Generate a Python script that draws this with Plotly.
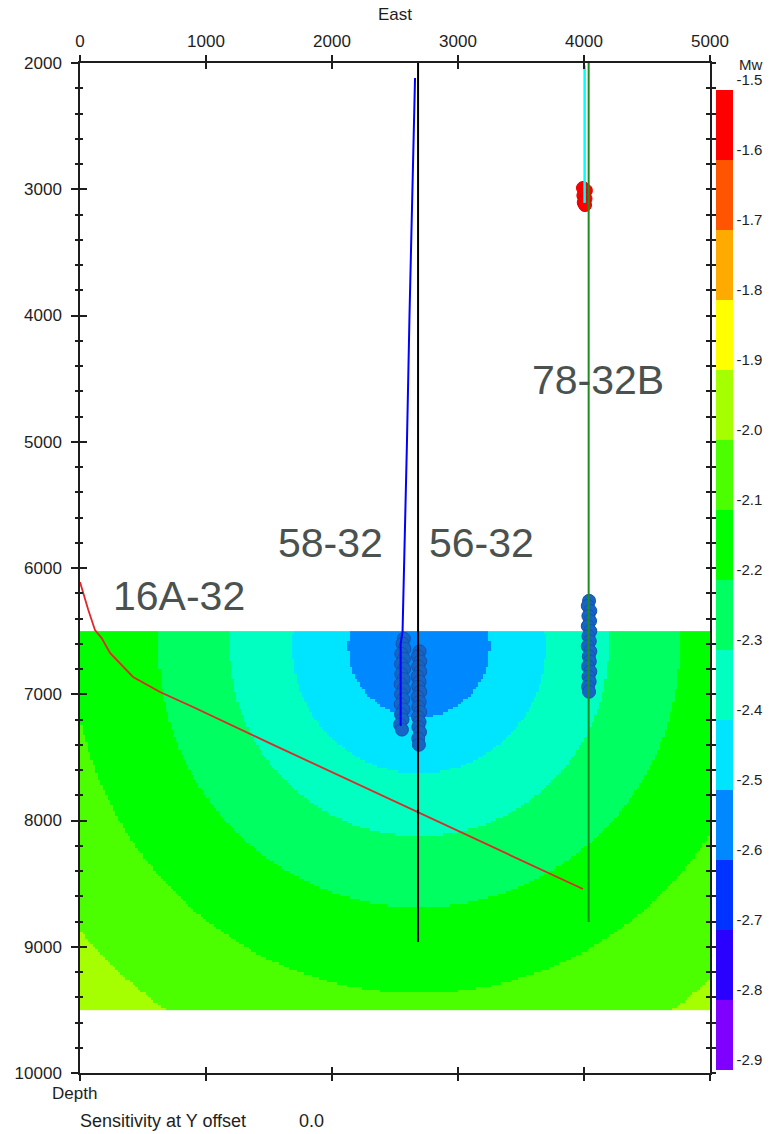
import numpy as np
import plotly.graph_objects as go

# ---------------- data ----------------
# Sensitivity field: concentric bands around a centre, boundary radii
FIELD_CENTER_EAST = 2690
FIELD_CENTER_DEPTH = 6618
BAND_RADII = [0, 562, 1006, 1505, 2068, 2750, 3510, 4300]      # metres
BAND_MW = [-2.58, -2.5, -2.4, -2.3, -2.2, -2.1, -2.0, -1.9]
FIELD_EAST_RANGE = [0, 5000]
FIELD_DEPTH_RANGE = [6500, 9500]

# Colour bar levels (bottom to top) and band colours
MW_LEVELS = [-2.9, -2.8, -2.7, -2.6, -2.5, -2.4, -2.3, -2.2, -2.1, -2.0, -1.9, -1.8, -1.7, -1.6, -1.5]
BAND_COLORS = ["#7F00FF", "#2A00FF", "#0033FF", "#0088FF", "#00E5FF", "#00FFC0", "#00FF60",
               "#00FF00", "#4CFF00", "#A5FF00", "#FFFF00", "#FFAA00", "#FF5500", "#FF0000"]

# Wells (east, depth)
well_16A_east = [0, 26, 66, 119, 172, 238, 421, 635, 897, 1500, 2690, 3992]
well_16A_depth = [6111, 6201, 6333, 6491, 6555, 6673, 6863, 6982, 7101, 7385, 7941, 8543]

well_58_east = [2659, 2650, 2635, 2615, 2595, 2570, 2560, 2545, 2545]
well_58_depth = [2119, 2500, 3000, 4000, 5000, 6000, 6500, 6600, 7252]

well_56_east = [2683, 2683]
well_56_depth = [2000, 8962]

well_78_east = [4037, 4037]
well_78_depth = [2000, 8804]

well_78_cyan_east = [4005, 4005]
well_78_cyan_depth = [2020, 3108]

# Events
ev58_east = [2570, 2560, 2575, 2550, 2570, 2548, 2572, 2550, 2568, 2545, 2570, 2548, 2565,
             2545, 2568, 2548, 2560, 2540, 2555]
ev58_depth = [6560, 6600, 6640, 6680, 6720, 6760, 6800, 6840, 6880, 6920, 6960, 7000, 7040,
              7080, 7120, 7160, 7200, 7240, 7280]

ev56_east = [2695, 2682, 2700, 2685, 2700, 2680, 2695, 2685, 2700, 2680, 2695, 2685, 2700,
             2682, 2695, 2685, 2698, 2684, 2690]
ev56_depth = [6660, 6700, 6740, 6780, 6820, 6860, 6900, 6940, 6980, 7020, 7060, 7100, 7140,
              7180, 7220, 7260, 7300, 7350, 7400]

ev78_east = [4040, 4030, 4050, 4035, 4048, 4030, 4050, 4035, 4046, 4030, 4050, 4038, 4046,
             4032, 4050, 4036, 4045, 4032, 4040]
ev78_depth = [6260, 6300, 6340, 6380, 6420, 6460, 6500, 6540, 6580, 6620, 6660, 6700, 6740,
              6780, 6820, 6860, 6900, 6940, 6980]

evred_east = [3992, 4015, 3995, 4012, 3998, 4008]
evred_depth = [2990, 3010, 3050, 3075, 3105, 3125]

well_labels = ["16A-32", "58-32", "56-32", "78-32B"]
well_label_east = [786, 1992, 3187, 4115]
well_label_depth = [6222, 5802, 5802, 4511]

x_ticks = [0, 1000, 2000, 3000, 4000, 5000]
y_ticks = [2000, 3000, 4000, 5000, 6000, 7000, 8000, 9000, 10000]

# ---------------- figure ----------------
step = 20
gx = np.arange(FIELD_EAST_RANGE[0] + step / 2, FIELD_EAST_RANGE[1], step)
gy = np.arange(FIELD_DEPTH_RANGE[0] + step / 2, FIELD_DEPTH_RANGE[1], step)
GX, GY = np.meshgrid(gx, gy)
R = np.hypot(GX - FIELD_CENTER_EAST, GY - FIELD_CENTER_DEPTH)
Z = np.round(np.interp(R, BAND_RADII, BAND_MW), 4)

nb = len(BAND_COLORS)
cscale = []
for i, c in enumerate(BAND_COLORS):
    cscale.append([i / nb, c])
    cscale.append([(i + 1) / nb, c])

W, H = 777, 1134
L, Rm, T, B = 80, 67, 63, 61
PW, PH = W - L - Rm, H - T - B

TXT = "#1e1e1e"
FONT = "Liberation Sans"
FS = 17

fig = go.Figure()
fig.add_trace(go.Heatmap(
    x=gx, y=gy, z=Z, zmin=MW_LEVELS[0], zmax=MW_LEVELS[-1], zsmooth=False,
    colorscale=cscale, hoverinfo="skip",
    colorbar=dict(
        x=(716 - L) / PW, xanchor="left", y=(H - B - 90) / PH, yanchor="top",
        xpad=0, ypad=0,
        len=980 / PH, lenmode="fraction", thickness=17, outlinewidth=0,
        tickvals=MW_LEVELS, ticktext=[f"{v:.1f}" for v in MW_LEVELS],
        ticks="", ticklabelposition="outside top",
        tickfont=dict(family=FONT, size=15, color=TXT),
    ),
))

def ev_trace(xs, ys, color, edge):
    return go.Scatter(x=xs, y=ys, mode="markers", hoverinfo="skip", showlegend=False,
                      marker=dict(size=13, color=color, line=dict(color=edge, width=1)))

fig.add_trace(ev_trace(ev58_east, ev58_depth, "#1864C6", "#0F55AE"))
fig.add_trace(ev_trace(ev56_east, ev56_depth, "#1864C6", "#0F55AE"))
fig.add_trace(ev_trace(ev78_east, ev78_depth, "#1864C6", "#0F55AE"))
fig.add_trace(ev_trace(evred_east, evred_depth, "#FF0000", "#E00000"))

def line_trace(xs, ys, color, width):
    return go.Scatter(x=xs, y=ys, mode="lines", hoverinfo="skip", showlegend=False,
                      line=dict(color=color, width=width))

fig.add_trace(line_trace(well_16A_east, well_16A_depth, "#E02828", 1.8))
fig.add_trace(line_trace(well_58_east, well_58_depth, "#0000FF", 2))
fig.add_trace(line_trace(well_56_east, well_56_depth, "#000000", 2))
fig.add_trace(line_trace(well_78_cyan_east, well_78_cyan_depth, "#00FFFF", 2.5))
fig.add_trace(line_trace(well_78_east, well_78_depth, "#1E8C1E", 2))

# empty traces to register overlay axes
for xa, ya in [("x2", "y"), ("x3", "y"), ("x4", "y"), ("x", "y2"), ("x", "y3"), ("x", "y4")]:
    fig.add_trace(go.Scatter(x=[None], y=[None], xaxis=xa, yaxis=ya, showlegend=False, hoverinfo="skip"))

for t, ex, dp in zip(well_labels, well_label_east, well_label_depth):
    fig.add_annotation(x=ex, y=dp, text=t, showarrow=False,
                       font=dict(family=FONT, size=41, color="#4A524F"))

ax_common = dict(range=[0, 5000], showgrid=False, zeroline=False, tickvals=x_ticks,
                 tickwidth=1.5, tickcolor=TXT, linecolor=TXT, linewidth=1.5)
ay_common = dict(range=[10000, 2000], showgrid=False, zeroline=False,
                 tickwidth=1.5, tickcolor=TXT, linecolor=TXT, linewidth=1.5)

fig.update_layout(
    width=W, height=H, margin=dict(l=L, r=Rm, t=T, b=B, autoexpand=False),
    paper_bgcolor="white", plot_bgcolor="white", showlegend=False,
    xaxis=dict(**ax_common, side="top", anchor="y", ticks="outside", ticklen=6, showline=True,
               tickfont=dict(family=FONT, size=FS, color=TXT), ticklabelstandoff=1),
    xaxis2=dict(**ax_common, side="top", anchor="y", overlaying="x", ticks="inside", ticklen=6,
                showline=False, showticklabels=False),
    xaxis3=dict(**ax_common, side="bottom", anchor="y", overlaying="x", ticks="outside", ticklen=6,
                showline=True, showticklabels=False),
    xaxis4=dict(**ax_common, side="bottom", anchor="y", overlaying="x", ticks="inside", ticklen=6,
                showline=False, showticklabels=False),
    yaxis=dict(**ay_common, side="left", anchor="x", tickvals=y_ticks, ticks="outside", ticklen=7,
               tickformat="d", showline=True,
               minor=dict(dtick=200, ticks="outside", ticklen=3, tickwidth=1.5, tickcolor=TXT),
               tickfont=dict(family=FONT, size=FS, color=TXT), ticklabelstandoff=6),
    yaxis2=dict(**ay_common, side="left", anchor="x", overlaying="y", tickvals=y_ticks, ticks="inside",
                ticklen=7, showline=False, showticklabels=False,
                minor=dict(dtick=200, ticks="inside", ticklen=3, tickwidth=1.5, tickcolor=TXT)),
    yaxis3=dict(**ay_common, side="right", anchor="x", overlaying="y", dtick=200, tick0=2000,
                ticks="outside", ticklen=4, showline=True, showticklabels=False),
    yaxis4=dict(**ay_common, side="right", anchor="x", overlaying="y", dtick=200, tick0=2000,
                ticks="inside", ticklen=4, showline=False, showticklabels=False),
)

fig.add_annotation(xref="paper", yref="paper", x=0.5, y=(H - B - 15) / PH, text="East",
                   showarrow=False, yanchor="middle", font=dict(family=FONT, size=FS, color=TXT))
fig.add_annotation(xref="paper", yref="paper", x=(737 - L) / PW, y=(H - B - 64) / PH, text="Mw",
                   showarrow=False, xanchor="left", yanchor="middle", font=dict(family=FONT, size=15, color=TXT))
fig.add_annotation(xref="paper", yref="paper", x=(50 - L) / PW, y=(H - B - 1093) / PH, text="Depth",
                   showarrow=False, yanchor="middle", font=dict(family=FONT, size=FS, color=TXT))
fig.add_annotation(xref="paper", yref="paper", x=(78 - L) / PW, y=(H - B - 1121) / PH, text="Sensitivity at Y offset",
                   showarrow=False, xanchor="left", yanchor="middle", font=dict(family=FONT, size=18, color=TXT))
fig.add_annotation(xref="paper", yref="paper", x=(297 - L) / PW, y=(H - B - 1121) / PH, text="0.0",
                   showarrow=False, xanchor="left", yanchor="middle", font=dict(family=FONT, size=18, color=TXT))

fig.write_html("out.html")
